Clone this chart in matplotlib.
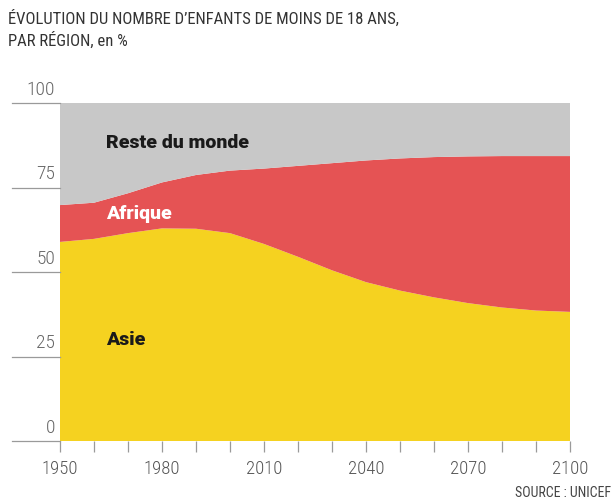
import matplotlib.pyplot as plt
import matplotlib.transforms as mtransforms
from matplotlib import font_manager as fm

# Share of children under 18 by region, in %
years = [1950, 1960, 1970, 1980, 1990, 2000, 2010, 2020,
         2030, 2040, 2050, 2060, 2070, 2080, 2090, 2100]
asie = [58.9, 59.8, 61.5, 62.9, 62.8, 61.5, 58.3, 54.5,
        50.5, 47.0, 44.5, 42.5, 40.8, 39.5, 38.6, 38.2]
asie_afrique = [69.8, 70.5, 73.3, 76.5, 78.7, 80.0, 80.6, 81.4,
                82.2, 83.0, 83.6, 84.0, 84.2, 84.3, 84.3, 84.3]
afrique = [t - a for t, a in zip(asie_afrique, asie)]
reste = [100 - t for t in asie_afrique]

regions = ['Asie', 'Afrique', 'Reste du monde']
colors = ['#f5d220', '#e55354', '#c8c8c8']
ytick_values = [0, 25, 50, 75, 100]
xtick_labels = [1950, 1980, 2010, 2040, 2070, 2100]

# pick a condensed sans if one is available
installed = {f.name for f in fm.fontManager.ttflist}
narrow = 'DejaVu Sans'
for cand in ['Roboto Condensed', 'Fira Sans Condensed', 'PT Sans Narrow',
             'Archivo Narrow', 'Liberation Sans Narrow']:
    if cand in installed:
        narrow = cand
        break
label_font = 'Roboto' if 'Roboto' in installed else 'DejaVu Sans'

fig = plt.figure(figsize=(6.12, 5.01), dpi=100)
ax = fig.add_axes([60 / 612, 1 - 441 / 501, 510 / 612, 338 / 501])

ax.stackplot(years, asie, afrique, reste, colors=colors, linewidth=0)
ax.set_xlim(1950, 2100)
ax.set_ylim(0, 100)

for s in ax.spines.values():
    s.set_visible(False)

# y scale: short grey rules left of the plot with the value sitting on top
trans = mtransforms.blended_transform_factory(ax.transAxes, ax.transData)
ax.set_yticks([])
for v in ytick_values:
    ax.plot([-48 / 510, 0], [v, v], transform=trans, color='#9a9a9a',
            lw=0.9, clip_on=False)
    ax.text(-5 / 510, v + 1.3, str(v), transform=trans, ha='right',
            va='bottom', fontsize=14, fontweight='light', color='#666666',
            family=narrow)

# x scale: a tick every 10 years, labels every 30
ax.set_xticks(years)
ax.set_xticklabels([str(y) if y in xtick_labels else '' for y in years],
                   family=narrow, fontsize=13.5, fontweight='light',
                   color='#555555')
ax.tick_params(axis='x', length=8, width=0.9, color='#9a9a9a', pad=6)

# region labels
ax.text(1963.5, 88.2, 'Reste du monde', fontsize=14, fontweight='heavy',
        family=label_font, color='#1a1a1a', va='center')
ax.text(1963.5, 67.3, 'Afrique', fontsize=14, fontweight='heavy',
        family=label_font, color='white', va='center')
ax.text(1963.5, 29.8, 'Asie', fontsize=14, fontweight='heavy',
        family=label_font, color='#1a1a1a', va='center')

fig.text(8 / 612, 1 - 10 / 501,
         "ÉVOLUTION DU NOMBRE D’ENFANTS DE MOINS DE 18 ANS,\nPAR RÉGION, en %",
         fontsize=12, family=narrow, color='#333333', va='top',
         linespacing=1.35)
fig.text(611 / 612, 1 - 493 / 501, 'SOURCE : UNICEF', fontsize=10,
         family=narrow, color='#444444', ha='right', va='center')

fig.savefig('out.png', dpi=100)
